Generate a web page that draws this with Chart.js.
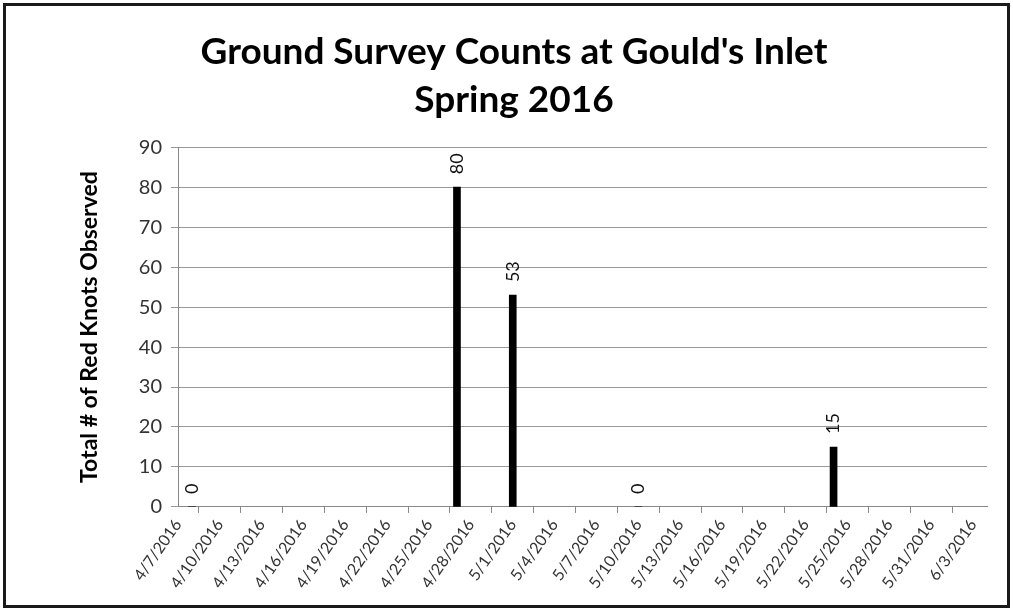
<!DOCTYPE html>
<html>
<head>
<meta charset="utf-8">
<script src="https://cdn.jsdelivr.net/npm/chart.js@4.4.1/dist/chart.umd.min.js"></script>
<style>
    html, body { margin: 0; padding: 0; background: #fff; }
    #frame {
        position: absolute;
        left: 3px; top: 3px;
        width: 1007px; height: 605px;
        border: 3px solid #1a1a1a;
        box-sizing: border-box;
    }
    #wrap { position: absolute; left: 0; top: 0; width: 1013px; height: 611px; }
</style>
</head>
<body>
<div id="frame"></div>
<div id="wrap"><canvas id="surveyChart"></canvas></div>
<script>
// survey dates and counts
const startDate = "4/7/2016";
const endDate = "6/4/2016";
const surveyDates = ["4/8/2016", "4/27/2016", "5/1/2016", "5/10/2016", "5/24/2016"];
const redKnots = [0, 80, 53, 0, 15];
const yTicks = [0, 10, 20, 30, 40, 50, 60, 70, 80, 90];

const DAY = 86400000;
function parseDate(s) {
    const [m, d, y] = s.split("/").map(Number);
    return Date.UTC(y, m - 1, d);
}
function dayOffset(s) {
    return Math.round((parseDate(s) - parseDate(startDate)) / DAY);
}
function formatDay(n) {
    const dt = new Date(parseDate(startDate) + n * DAY);
    return (dt.getUTCMonth() + 1) + "/" + dt.getUTCDate() + "/" + dt.getUTCFullYear();
}

const points = surveyDates.map((d, i) => ({ x: dayOffset(d), y: redKnots[i] }));

// vertical value labels above each bar
const barLabels = {
    id: "barLabels",
    afterDatasetsDraw(chart) {
        const ctx = chart.ctx;
        const meta = chart.getDatasetMeta(0);
        ctx.save();
        ctx.font = "18px Lato";
        ctx.fillStyle = "#111";
        ctx.textAlign = "left";
        ctx.textBaseline = "middle";
        meta.data.forEach((bar, i) => {
            ctx.save();
            ctx.translate(bar.x, bar.y - 13);
            ctx.rotate(-Math.PI / 2);
            ctx.fillText(String(redKnots[i]), 0, 0);
            ctx.restore();
        });
        ctx.restore();
    }
};

const el = document.getElementById("surveyChart");
if (el) {
    new Chart(el, {
        type: "bar",
        data: {
            datasets: [
                {
                    label: "Red Knots",
                    data: points,
                    backgroundColor: "#000",
                    barThickness: 7,
                },
            ],
        },
        options: {
            responsive: true,
            maintainAspectRatio: false,
            animation: false,
            layout: {
                padding: { left: 41, right: 26, top: 22, bottom: 16 },
            },
            plugins: {
                legend: { display: false },
                tooltip: { enabled: false },
                title: {
                    display: true,
                    text: ["Ground Survey Counts at Gould's Inlet", "Spring 2016"],
                    color: "#000",
                    font: { family: "Lato", size: 37, weight: "bold", lineHeight: 1.3 },
                    padding: { top: 6, bottom: 23 },
                },
            },
            scales: {
                x: {
                    type: "linear",
                    min: 0,
                    max: dayOffset(endDate),
                    offset: false,
                    grid: {
                        drawOnChartArea: false,
                        drawTicks: true,
                        tickLength: 6,
                        color: "#888",
                    },
                    border: { color: "#888" },
                    ticks: {
                        stepSize: 3,
                        includeBounds: false,
                        autoSkip: false,
                        maxRotation: 55,
                        minRotation: 55,
                        color: "#333",
                        font: { family: "Lato", size: 16 },
                        callback: (v) => formatDay(v),
                    },
                },
                y: {
                    min: 0,
                    max: 90,
                    afterBuildTicks: (axis) => {
                        axis.ticks = yTicks.map((v) => ({ value: v }));
                    },
                    afterFit: (axis) => {
                        axis.width = 137;
                    },
                    grid: {
                        color: "#999",
                        tickLength: 7,
                    },
                    border: { color: "#888" },
                    ticks: {
                        color: "#333",
                        padding: 9,
                        font: { family: "Lato", size: 20 },
                    },
                    title: {
                        display: true,
                        text: "Total # of Red Knots Observed",
                        color: "#000",
                        font: { family: "Lato", size: 23, weight: "bold" },
                        padding: { top: 35, bottom: 10 },
                    },
                },
            },
        },
        plugins: [barLabels],
    });
}
</script>
</body>
</html>
